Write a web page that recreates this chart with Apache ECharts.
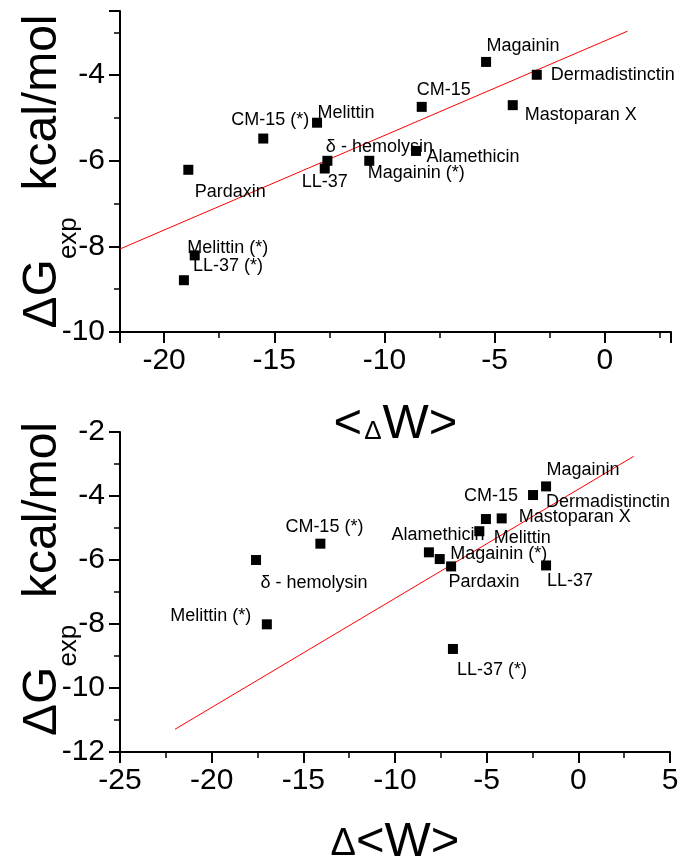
<!DOCTYPE html>
<html><head><meta charset="utf-8">
<script src="https://cdn.jsdelivr.net/npm/echarts@6/dist/echarts.min.js"></script>
<style>html,body{margin:0;padding:0;background:#fff}#c{width:680px;height:863px}</style>
</head><body><div id="c"></div>
<script>
const peptides = ['Magainin','Dermadistinctin','CM-15','Mastoparan X','Melittin','CM-15 (*)','δ - hemolysin','LL-37','Magainin (*)','Alamethicin','Pardaxin','Melittin (*)','LL-37 (*)'];
// top panel: <ΔW> vs ΔGexp
const topX = [-5.39,-3.09,-8.31,-4.18,-13.06,-15.50,-12.59,-12.71,-10.69,-8.57,-18.90,-18.61,-19.10];
const topY = [-3.69,-3.99,-4.74,-4.70,-5.11,-5.48,-6.00,-6.18,-6.00,-5.77,-6.21,-8.21,-8.79];
// bottom panel: Δ<W> vs ΔGexp
const bottomX = [-1.76,-2.47,-5.04,-4.18,-5.40,-14.07,-17.58,-1.76,-7.56,-8.15,-6.94,-16.99,-6.84];
const bottomY = [-3.70,-3.97,-4.72,-4.70,-5.10,-5.49,-6.00,-6.17,-5.97,-5.76,-6.20,-8.01,-8.78];
// fitted lines (end points)
const topFitX = [-22, 1.03];
const topFitY = [-8.06, -2.97];
const bottomFitX = [-22, 3.02];
const bottomFitY = [-11.29, -2.76];

// label placement (pixel offsets from each point)
const topLabelOffsets = [[37,-16],[76,0],[22,-17],[68,10],[29,-10],[7,-19],[52,-14],[0,14],[47,12],[57,6],[42,22],[33,-7],[44,-14]];
const bottomLabelOffsets = [[37,-16],[75,7],[5,-23],[73,-1],[43,7],[4,-17],[58,23],[24,16],[59,-5],[9,-17],[33,16],[-56,-8],[39,21]];

const FONT = "'Liberation Sans', Arial, sans-serif";

function pts(xs, ys, offs) {
  return xs.map((x, i) => ({
    value: [x, ys[i]],
    name: peptides[i],
    label: { offset: offs[i] }
  }));
}
function line(xs, ys) { return xs.map((x, i) => [x, ys[i]]); }

const axisLineStyle = { show: true, onZero: false, lineStyle: { color: '#000', width: 2 } };
const tick = { show: true, inside: false, length: 11, lineStyle: { color: '#000', width: 2 } };
const minor = { show: true, splitNumber: 2, length: 6, lineStyle: { color: '#000', width: 1.5 } };
const tickLabel = (margin, extra) => Object.assign({ color: '#000', fontSize: 30, fontFamily: FONT, margin: margin }, extra || {});

function yName() {
  return '{m|ΔG}{s|exp}{m|  kcal/mol}';
}
const yNameStyle = (pad) => ({
  color: '#000',
  fontFamily: FONT,
  padding: pad,
  rich: {
    m: { fontSize: 48, lineHeight: 48, fontFamily: FONT, color: '#000', verticalAlign: 'top' },
    s: { fontSize: 26, lineHeight: 26, fontFamily: FONT, color: '#000', verticalAlign: 'top', padding: [37, 0, 0, 0] }
  }
});

const option = {
  animation: false,
  backgroundColor: '#fff',
  grid: [
    { left: 120, right: 9, top: 11, height: 321, containLabel: false, outerBoundsMode: 'none' },
    { left: 120, right: 10, top: 432, height: 320, containLabel: false, outerBoundsMode: 'none' }
  ],
  xAxis: [
    {
      gridIndex: 0, type: 'value', min: -22, max: 3, splitNumber: 5,
      axisLine: axisLineStyle, axisTick: tick, minorTick: minor, splitLine: { show: false },
      axisLabel: tickLabel(14, { showMinLabel: false, showMaxLabel: false }),
      name: '{a|<}{d|Δ}{a|W>}', nameLocation: 'middle', nameGap: 68, nameMoveOverlap: false,
      nameTextStyle: { color: '#000', rich: {
        a: { fontSize: 49, lineHeight: 49, fontFamily: FONT, color: '#000', verticalAlign: 'bottom' },
        d: { fontSize: 26, lineHeight: 26, fontFamily: FONT, color: '#000', verticalAlign: 'bottom', padding: [0, 1, 4, 2] }
      } }
    },
    {
      gridIndex: 1, type: 'value', min: -25, max: 5, interval: 5,
      axisLine: axisLineStyle, axisTick: tick, minorTick: minor, splitLine: { show: false },
      axisLabel: tickLabel(14),
      name: '{d|Δ}{a|<W>}', nameLocation: 'middle', nameGap: 66, nameMoveOverlap: false,
      nameTextStyle: { color: '#000', rich: {
        a: { fontSize: 49, lineHeight: 49, fontFamily: FONT, color: '#000', verticalAlign: 'bottom' },
        d: { fontSize: 38, lineHeight: 38, fontFamily: FONT, color: '#000', verticalAlign: 'bottom', padding: [0, 0, 3, 0] }
      } }
    }
  ],
  yAxis: [
    {
      gridIndex: 0, type: 'value', min: -10, max: -2.5, interval: 2,
      axisLine: axisLineStyle, axisTick: tick, minorTick: minor, splitLine: { show: false },
      axisLabel: tickLabel(15, { showMaxLabel: false }),
      name: yName(), nameLocation: 'middle', nameGap: 53, nameRotate: 90, nameMoveOverlap: false,
      nameTextStyle: yNameStyle([0, 0, 0, 0])
    },
    {
      gridIndex: 1, type: 'value', min: -12, max: -2, interval: 2,
      axisLine: axisLineStyle, axisTick: tick, minorTick: minor, splitLine: { show: false },
      axisLabel: tickLabel(15),
      name: yName(), nameLocation: 'middle', nameGap: 53, nameRotate: 90, nameMoveOverlap: false,
      nameTextStyle: yNameStyle([0, 0, 0, 26])
    }
  ],
  series: [
    {
      type: 'line', xAxisIndex: 0, yAxisIndex: 0, data: line(topFitX, topFitY),
      showSymbol: false, symbol: 'none', lineStyle: { color: '#ff0000', width: 1 }, silent: true, z: 1
    },
    {
      type: 'scatter', xAxisIndex: 0, yAxisIndex: 0, data: pts(topX, topY, topLabelOffsets),
      symbol: 'rect', symbolSize: 10, itemStyle: { color: '#000', opacity: 1 }, z: 2,
      label: { show: true, position: 'inside', formatter: '{b}', color: '#000', fontSize: 18, fontFamily: FONT, align: 'center', verticalAlign: 'middle' }
    },
    {
      type: 'line', xAxisIndex: 1, yAxisIndex: 1, data: line(bottomFitX, bottomFitY),
      showSymbol: false, symbol: 'none', lineStyle: { color: '#ff0000', width: 1 }, silent: true, z: 1
    },
    {
      type: 'scatter', xAxisIndex: 1, yAxisIndex: 1, data: pts(bottomX, bottomY, bottomLabelOffsets),
      symbol: 'rect', symbolSize: 10, itemStyle: { color: '#000', opacity: 1 }, z: 2,
      label: { show: true, position: 'inside', formatter: '{b}', color: '#000', fontSize: 18, fontFamily: FONT, align: 'center', verticalAlign: 'middle' }
    }
  ]
};
echarts.init(document.getElementById('c')).setOption(option);
</script>
</body></html>
